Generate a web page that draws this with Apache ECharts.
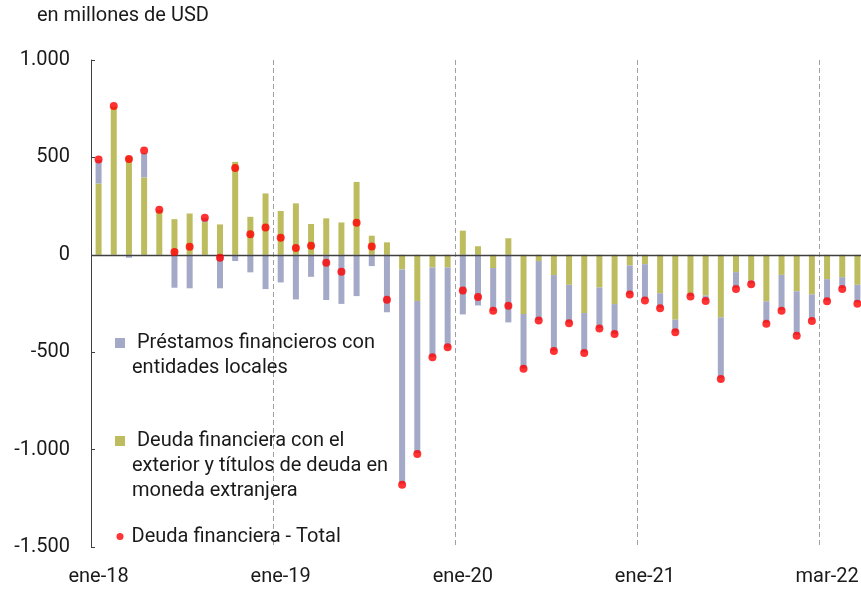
<!DOCTYPE html>
<html>
<head>
<meta charset="utf-8">
<script src="https://cdn.jsdelivr.net/npm/echarts@6/dist/echarts.min.js"></script>
<style>
  html, body { margin: 0; padding: 0; background: #fff; }
  #chart { width: 861px; height: 590px; }
</style>
</head>
<body>
<div id="chart"></div>
<script>
// meses (ene-18 ... mar-22)
const months = [
  'ene-18','feb-18','mar-18','abr-18','may-18','jun-18','jul-18','ago-18','sep-18','oct-18','nov-18','dic-18',
  'ene-19','feb-19','mar-19','abr-19','may-19','jun-19','jul-19','ago-19','sep-19','oct-19','nov-19','dic-19',
  'ene-20','feb-20','mar-20','abr-20','may-20','jun-20','jul-20','ago-20','sep-20','oct-20','nov-20','dic-20',
  'ene-21','feb-21','mar-21','abr-21','may-21','jun-21','jul-21','ago-21','sep-21','oct-21','nov-21','dic-21',
  'ene-22','feb-22','mar-22'
];
// etiquetas del eje X tal como aparecen
const tickLabels = { 0: 'ene-18', 12: 'ene-19', 24: 'ene-20', 36: 'ene-21', 48: 'mar-22' };

// Deuda financiera con el exterior y títulos de deuda en moneda extranjera
const exterior = [
  366, 760, 505, 397, 225, 183, 212, 168, 156, 477, 195, 315,
  225, 264, 158, 187, 166, 374, 98, 64, -75, -237, -65, -65,
  124, 44, -68, 85, -304, -32, -104, -154, -299, -168, -253, -55,
  -48, -197, -333, -197, -209, -321, -89, -132, -239, -103, -187, -203,
  -125, -115, -154
];
// Préstamos financieros con entidades locales
const locales = [
  120, 0, -15, 125, 6, -169, -172, 20, -172, -32, -90, -176,
  -142, -229, -113, -232, -252, -212, -58, -295, -1100, -780, -460, -410,
  -306, -260, -220, -347, -280, -303, -388, -194, -202, -208, -152, -147,
  -180, -75, -62, -15, -25, -313, -80, -15, -110, -180, -223, -130,
  -110, -55, -90
];
// Deuda financiera - Total
const total = [
  489, 764, 492, 535, 231, 14, 41, 190, -15, 446, 106, 140,
  87, 35, 46, -41, -87, 164, 43, -231, -1181, -1022, -526, -475,
  -183, -217, -287, -262, -585, -337, -494, -351, -504, -378, -407, -204,
  -234, -275, -398, -214, -237, -637, -176, -151, -354, -287, -415, -340,
  -239, -176, -251
];

const NAME_LOC = 'Préstamos financieros con entidades locales';
const NAME_EXT = 'Deuda financiera con el exterior y títulos de deuda en moneda extranjera';
const NAME_TOT = 'Deuda financiera - Total';

const FONT = 'Roboto';
const TXT = '#1a1a1a';
const AXIS = '#404040';

const legendText = (padLeft) => ({
  fontFamily: FONT, fontSize: 20, lineHeight: 25, color: TXT, padding: [0, 0, 0, padLeft]
});

const chart = echarts.init(document.getElementById('chart'));
chart.setOption({
  animation: false,
  title: {
    text: 'en millones de USD',
    left: 32, top: 1,
    textStyle: { fontFamily: FONT, fontSize: 20, fontWeight: 'normal', color: TXT }
  },
  grid: { left: 91, right: -4, top: 60, bottom: 43, containLabel: false, outerBoundsMode: 'none' },
  legend: [
    {
      // lineas vacias arriba para que el icono quede a la altura de la primera linea
      data: [NAME_LOC], orient: 'vertical', left: 115, top: 305.5, padding: 0,
      selectedMode: false, icon: 'rect', itemWidth: 10, itemHeight: 10,
      formatter: () => '\n Préstamos financieros con\nentidades locales',
      textStyle: legendText(2)
    },
    {
      data: [NAME_EXT], orient: 'vertical', left: 115, top: 378.5, padding: 0,
      selectedMode: false, icon: 'rect', itemWidth: 10, itemHeight: 10,
      formatter: () => '\n\n Deuda financiera con el\nexterior y títulos de deuda en\nmoneda extranjera',
      textStyle: legendText(2)
    },
    {
      data: [NAME_TOT], orient: 'vertical', left: 116.5, top: 524, padding: 0,
      selectedMode: false, icon: 'circle', itemWidth: 7, itemHeight: 7,
      textStyle: legendText(3)
    }
  ],
  xAxis: {
    type: 'category',
    data: months,
    boundaryGap: true,
    axisLine: { show: false, onZero: false },
    axisTick: { show: false },
    axisLabel: {
      interval: (i) => i % 12 === 0,
      formatter: (v, i) => tickLabels[i] || '',
      fontFamily: FONT, fontSize: 20, color: TXT, margin: 20
    },
    splitLine: {
      show: true,
      interval: (i) => i > 0 && i % 12 === 0,
      lineStyle: { color: '#a0a0a0', type: [5, 3], width: 1 }
    }
  },
  yAxis: {
    type: 'value',
    min: -1500, max: 1000, interval: 500,
    axisLine: { show: true, lineStyle: { color: AXIS, width: 1 } },
    axisTick: { show: true, inside: true, length: 4, lineStyle: { color: AXIS } },
    splitLine: { show: false },
    axisLabel: {
      fontFamily: FONT, fontSize: 20, color: TXT, margin: 21,
      formatter: (v) => {
        const s = Math.abs(v).toString().replace(/\B(?=(\d{3})+(?!\d))/g, '.');
        return (v < 0 ? '-' : '') + s;
      }
    }
  },
  series: [
    {
      name: NAME_EXT, type: 'bar', stack: 'deuda', data: exterior,
      barWidth: 6, itemStyle: { color: '#BDBD5F' },
      markLine: {
        silent: true, symbol: 'none', label: { show: false },
        lineStyle: { color: AXIS, type: 'solid', width: 1.3 },
        data: [{ yAxis: 0 }]
      }
    },
    {
      name: NAME_LOC, type: 'bar', stack: 'deuda', data: locales,
      barWidth: 6, itemStyle: { color: '#A3A9C6' }
    },
    {
      name: NAME_TOT, type: 'scatter', data: total, z: 5,
      symbol: 'circle', symbolSize: 8, itemStyle: { color: '#FF0000' }
    }
  ]
});
</script>
</body>
</html>
